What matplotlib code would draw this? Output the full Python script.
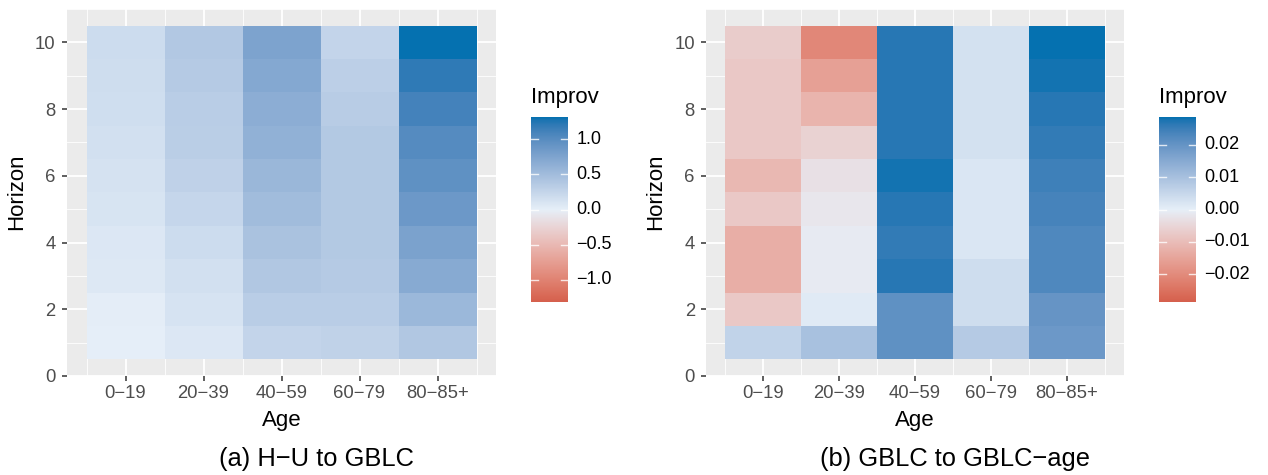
import numpy as np
import matplotlib.pyplot as plt
from matplotlib.colors import ListedColormap, Normalize, to_rgb

plt.rcParams['font.family'] = ['Liberation Sans', 'DejaVu Sans']

ages = ["0\u221219", "20\u221239", "40\u221259", "60\u221279", "80\u221285+"]
horizons = np.arange(1, 11)

# rows: horizon 1..10, columns: age groups
improv_a = np.array([
    [0.01, 0.08, 0.26, 0.28, 0.40],
    [0.02, 0.12, 0.33, 0.33, 0.55],
    [0.07, 0.15, 0.40, 0.37, 0.70],
    [0.08, 0.19, 0.45, 0.38, 0.78],
    [0.11, 0.24, 0.51, 0.38, 0.88],
    [0.13, 0.29, 0.56, 0.38, 0.96],
    [0.15, 0.32, 0.62, 0.38, 1.03],
    [0.17, 0.34, 0.67, 0.35, 1.12],
    [0.18, 0.37, 0.72, 0.31, 1.21],
    [0.19, 0.39, 0.77, 0.26, 1.32],
])
improv_b = np.array([
    [0.006, 0.010, 0.021, 0.008, 0.019],
    [-0.008, 0.001, 0.021, 0.004, 0.020],
    [-0.013, -0.001, 0.027, 0.004, 0.023],
    [-0.013, -0.001, 0.026, 0.002, 0.023],
    [-0.008, -0.002, 0.027, 0.002, 0.024],
    [-0.011, -0.003, 0.028, 0.002, 0.025],
    [-0.008, -0.006, 0.027, 0.003, 0.026],
    [-0.008, -0.012, 0.027, 0.003, 0.027],
    [-0.008, -0.016, 0.027, 0.003, 0.028],
    [-0.007, -0.021, 0.027, 0.003, 0.0285],
])
limit_a = 1.32
limit_b = 0.0286
ticks_a = [-1.0, -0.5, 0.0, 0.5, 1.0]
ticks_b = [-0.02, -0.01, 0.0, 0.01, 0.02]
captions = ["(a) H\u2212U to GBLC", "(b) GBLC to GBLC\u2212age"]


# gradient2-like colormap interpolated in Lab space
def srgb_to_lab(c):
    c = np.asarray(c, float)
    lin = np.where(c <= 0.04045, c / 12.92, ((c + 0.055) / 1.055) ** 2.4)
    m = np.array([[0.4124, 0.3576, 0.1805], [0.2126, 0.7152, 0.0722], [0.0193, 0.1192, 0.9505]])
    xyz = m @ lin / np.array([0.95047, 1.0, 1.08883])
    f = np.where(xyz > 0.008856, np.cbrt(xyz), 7.787 * xyz + 16 / 116)
    return np.array([116 * f[1] - 16, 500 * (f[0] - f[1]), 200 * (f[1] - f[2])])


def lab_to_srgb(lab):
    L, a, b = lab
    fy = (L + 16) / 116
    f = np.array([fy + a / 500, fy, fy - b / 200])
    xyz = np.where(f ** 3 > 0.008856, f ** 3, (f - 16 / 116) / 7.787) * np.array([0.95047, 1.0, 1.08883])
    m = np.array([[3.2406, -1.5372, -0.4986], [-0.9689, 1.8758, 0.0415], [0.0557, -0.2040, 1.0570]])
    lin = m @ xyz
    c = np.where(lin <= 0.0031308, 12.92 * lin, 1.055 * np.clip(lin, 0, None) ** (1 / 2.4) - 0.055)
    return np.clip(c, 0, 1)


low, mid, high = srgb_to_lab(to_rgb("#D6604D")), srgb_to_lab(to_rgb("#E6EFF8")), srgb_to_lab(to_rgb("#0571B0"))
cols = []
for t in np.linspace(0, 1, 256):
    if t < 0.5:
        lab = low + (mid - low) * (t / 0.5)
    else:
        lab = mid + (high - mid) * ((t - 0.5) / 0.5)
    cols.append(lab_to_srgb(lab))
cmap = ListedColormap(cols)

W, H = 1268, 475
fig = plt.figure(figsize=(W / 100, H / 100), dpi=100)

# (data, limit, colorbar ticks, panel left px, panel right px, colorbar left px, label format, caption centre px)
panels = [
    (improv_a, limit_a, ticks_a, 67, 496, 531, "{:.1f}", 316),
    (improv_b, limit_b, ticks_b, 706, 1124, 1159, "{:.2f}", 955),
]
tick_col = "#4D4D4D"

for i, (data, lim, cticks, x0, x1, cbx, fmt, capx) in enumerate(panels):
    ax = fig.add_axes([x0 / W, (H - 376) / H, (x1 - x0) / W, 367 / H])
    ax.set_facecolor("#EBEBEB")
    norm = Normalize(-lim, lim)
    xe = np.arange(0.5, 6.0, 1.0)
    ye = np.arange(0.5, 11.0, 1.0)
    ax.pcolormesh(xe, ye, data, cmap=cmap, norm=norm, zorder=2)
    ax.set_xlim(0.25, 5.75)
    ax.set_ylim(0, 11)
    ax.set_xticks(np.arange(1, 6))
    ax.set_xticklabels(ages)
    ax.set_yticks([0, 2, 4, 6, 8, 10])
    for yv in [1, 3, 5, 7, 9, 11]:
        ax.axhline(yv, color="white", lw=0.6, zorder=1)
    for xv in xe:
        ax.axvline(xv, color="white", lw=0.6, zorder=1)
    for yv in [0, 2, 4, 6, 8, 10]:
        ax.axhline(yv, color="white", lw=1.3, zorder=1)
    for xv in range(1, 6):
        ax.axvline(xv, color="white", lw=1.3, zorder=1)
    for s in ax.spines.values():
        s.set_visible(False)
    ax.tick_params(axis="y", length=3.6, width=1.1, color="#333333", labelcolor=tick_col,
                   labelsize=13.3, pad=4.5)
    ax.tick_params(axis="x", length=3.6, width=1.1, color="#333333", labelcolor=tick_col,
                   labelsize=13.3, pad=3)
    pw = x1 - x0
    fig.text((x0 + pw / 2) / W, (H - 426) / H, "Age", ha="center", va="baseline", fontsize=16)
    fig.text((x0 - 50) / W, (H - 192) / H, "Horizon", ha="center", va="center",
             rotation=90, fontsize=16)

    # colorbar
    cax = fig.add_axes([cbx / W, (H - 302) / H, 37 / W, 185 / H])
    grad = np.linspace(-lim, lim, 300).reshape(-1, 1)
    cax.imshow(grad, cmap=cmap, norm=norm, aspect="auto", origin="lower",
               extent=[0, 1, -lim, lim])
    cax.set_xlim(0, 1)
    cax.set_ylim(-lim, lim)
    cax.set_xticks([])
    cax.set_yticks([])
    for s in cax.spines.values():
        s.set_visible(False)
    for tv in cticks:
        cax.plot([0, 0.2], [tv, tv], color="white", lw=1, alpha=0.8)
        cax.plot([0.8, 1], [tv, tv], color="white", lw=1, alpha=0.8)
        cax.text(1.22, tv, fmt.format(tv).replace("-", "\u2212"), va="center", ha="left", fontsize=13)
    fig.text(cbx / W, (H - 103) / H, "Improv", ha="left", va="baseline", fontsize=16)

    fig.text(capx / W, (H - 466) / H, captions[i], ha="center", va="baseline", fontsize=18.4)

fig.savefig("out.png", dpi=100)
